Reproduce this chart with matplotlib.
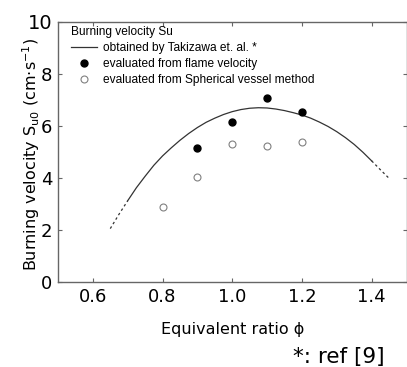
import numpy as np
import matplotlib
matplotlib.use("Agg")
import matplotlib.pyplot as plt
from matplotlib.lines import Line2D

# Takizawa et al. correlation
phi_curve = [0.650, 0.675, 0.700, 0.725, 0.750, 0.775, 0.800, 0.825, 0.850,
             0.875, 0.900, 0.925, 0.950, 0.975, 1.000, 1.025, 1.050, 1.075,
             1.100, 1.125, 1.150, 1.175, 1.200, 1.225, 1.250, 1.275, 1.300,
             1.325, 1.350, 1.375, 1.400, 1.425, 1.450]
su_curve = [2.05, 2.60, 3.12, 3.62, 4.06, 4.48, 4.84, 5.15, 5.44,
            5.70, 5.93, 6.13, 6.29, 6.43, 6.54, 6.62, 6.67, 6.69,
            6.68, 6.64, 6.58, 6.50, 6.41, 6.29, 6.14, 5.97, 5.77,
            5.54, 5.28, 4.98, 4.65, 4.31, 3.98]

# evaluated from flame velocity
phi_flame = [0.9, 1.0, 1.1, 1.2]
su_flame = [5.13, 6.15, 7.05, 6.52]

# evaluated from spherical vessel method
phi_vessel = [0.8, 0.9, 1.0, 1.1, 1.2]
su_vessel = [2.87, 4.03, 5.28, 5.23, 5.37]

xticks = [0.6, 0.8, 1.0, 1.2, 1.4]
yticks = [0, 2, 4, 6, 8, 10]

plt.rcParams['font.family'] = ['DejaVu Sans']

fig = plt.figure(figsize=(4.07, 3.67), dpi=100)
ax = fig.add_axes([58 / 407, 85 / 367, 348.5 / 407, 260.5 / 367])

phi_curve = np.array(phi_curve)
su_curve = np.array(su_curve)
solid = (phi_curve >= 0.699) & (phi_curve <= 1.401)
lo = phi_curve <= 0.701
hi = phi_curve >= 1.399
ax.plot(phi_curve[solid], su_curve[solid], color='#333333', lw=0.9)
ax.plot(phi_curve[lo], su_curve[lo], color='#333333', lw=0.9, ls=(0, (2, 2.2)))
ax.plot(phi_curve[hi], su_curve[hi], color='#333333', lw=0.9, ls=(0, (2, 2.2)))

ax.plot(phi_flame, su_flame, 'o', color='black', ms=5, mec='black')
ax.plot(phi_vessel, su_vessel, 'o', mfc='white', mec='#808080', ms=5, mew=0.8)

ax.set_xlim(0.5, 1.5)
ax.set_ylim(0, 10)
ax.set_xticks(xticks)
ax.set_xticklabels(['%.1f' % v for v in xticks], fontsize=13)
ax.set_yticks(yticks)
ax.set_yticklabels([str(v) for v in yticks], fontsize=13)
ax.get_yticklabels()[-1].set_fontsize(14)
ax.tick_params(direction='in', length=3, width=0.8, color='#666666',
               top=True, right=True, pad=4)
for s in ax.spines.values():
    s.set_color('#666666')
    s.set_linewidth(1.0)

ax.set_xlabel('Equivalent ratio \u03d5', fontsize=11.5, labelpad=12)
ax.set_ylabel('Burning velocity S$_{\\mathregular{u0}}$ (cm\u00b7s$^{\\mathregular{-1}}$)',
              fontsize=11.5)
ax.yaxis.set_label_coords(-0.045, 0.49)

handles = [
    Line2D([], [], color='#333333', lw=0.9),
    Line2D([], [], marker='o', ls='none', color='black', ms=5),
    Line2D([], [], marker='o', ls='none', mfc='white', mec='#808080', ms=5, mew=0.8),
]
labels = ['obtained by Takizawa et. al. *',
          'evaluated from flame velocity',
          'evaluated from Spherical vessel method']
leg = ax.legend(handles, labels, title='Burning velocity Su', loc='upper left',
                bbox_to_anchor=(13 / 348.5, 1 - 4 / 260.5),
                frameon=False, borderpad=0, borderaxespad=0,
                prop={'family': 'Liberation Sans', 'size': 8.6},
                title_fontproperties={'family': 'Liberation Sans', 'size': 8.6},
                handlelength=2.2, handletextpad=0.5, labelspacing=0.36,
                alignment='left')

fig.text(0.946, 0.01, '*: ref [9]', ha='right', va='baseline', fontsize=15.5)

fig.savefig('out.png', dpi=100)
